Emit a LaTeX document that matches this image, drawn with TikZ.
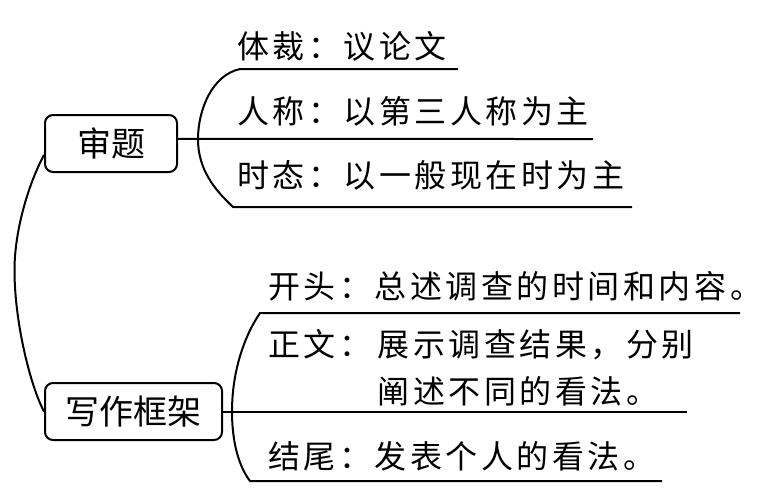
\documentclass[tikz,border=0pt]{standalone}
\usepackage{fontspec}
\newfontfamily\cjk[LetterSpace=11]{Noto Sans CJK SC}
\newfontfamily\cjkbox{Noto Sans CJK SC}
\usetikzlibrary{positioning}

\begin{document}
\begin{tikzpicture}[
    x=0.75pt, y=-0.75pt,
    box/.style={draw, line width=1.5pt, rounded corners=6pt, minimum height=42.75pt,
                inner sep=0pt, font=\cjkbox\fontsize{25.5}{28}\selectfont},
    item/.style={anchor=west, inner sep=0pt, align=left,
                 font=\cjk\fontsize{24}{35.25}\selectfont},
    ln/.style={line width=1.5pt},
  ]
  \useasboundingbox (0,0) rectangle (763,497);
  % --- Roots ---
  \node[box, minimum width=99pt] (shenti) at (111,143.5) {审题};
  \node[box, minimum width=132.75pt] (xiezuo) at (133.5,411.5) {写作框架};
  \draw[ln] ([yshift=-8.6pt]shenti.west) .. controls (28,185) and (15,230) .. (14.5,268)
    .. controls (14,320) and (30,385) .. (xiezuo.west);

  % --- 审题 ---
  \node[item] (ticai) at (237,46) {体裁：议论文};
  \node[item] (renchen) at (237,111) {人称：以第三人称为主};
  \node[item] (shitai) at (237,175) {时态：以一般现在时为主};
  \coordinate (st) at (240,69);
  \coordinate (sm) at (198,139);
  \coordinate (sb) at (233,207);
  \coordinate (ste) at (458,69);
  \coordinate (sme) at (593,139);
  \coordinate (sbe) at (632,207);
  \draw[ln] ([yshift=3.4pt]shenti.east) -- (sme);
  \draw[ln] (ste) -- (st) .. controls (212,75) and (198,110) .. (sm)
    .. controls (198,170) and (215,190) .. (sb) -- (sbe);

  % --- 写作框架 ---
  \node[item] (kaitou) at (268,286) {开头：总述调查的时间和内容。};
  \node[item, anchor=base west] (zhengwen) at (268,356)
    {正文：\kern0.2em\begin{tabular}[t]{@{}l@{}}展示调查结果，分别\\阐述不同的看法。\end{tabular}};
  \node[item] (jiewei) at (268,456) {结尾：发表个人的看法。};
  \coordinate (xt) at (260,313);
  \coordinate (xm) at (232,411.5);
  \coordinate (xb) at (250,481);
  \coordinate (xte) at (740,313);
  \coordinate (xme) at (687,411.5);
  \coordinate (xbe) at (662,481);
  \draw[ln] (xiezuo.east) -- (xme);
  \draw[ln] (xte) -- (xt) .. controls (245,335) and (232,370) .. (xm)
    .. controls (232,445) and (240,468) .. (xb) -- (xbe);
\end{tikzpicture}
\end{document}
